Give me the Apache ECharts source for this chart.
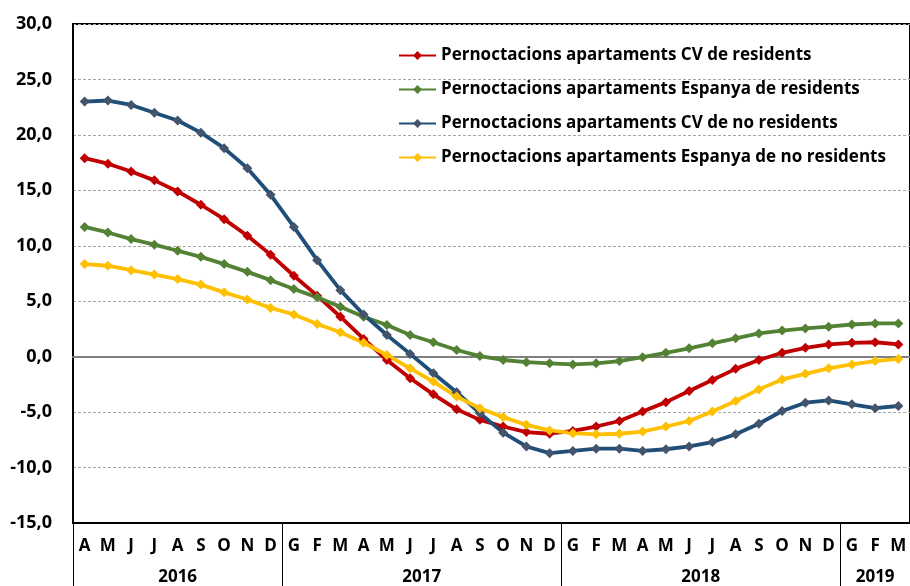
<!DOCTYPE html>
<html>
<head>
<meta charset="utf-8">
<script src="https://cdn.jsdelivr.net/npm/echarts@6/dist/echarts.min.js"></script>
<style>
  html, body { margin: 0; padding: 0; background: #fff; }
  #chart { width: 910px; height: 586px; }
</style>
</head>
<body>
<div id="chart"></div>
<script>
// months: Apr 2016 .. Mar 2019
var months = ['A','M','J','J','A','S','O','N','D',
  'G','F','M','A','M','J','J','A','S','O','N','D',
  'G','F','M','A','M','J','J','A','S','O','N','D',
  'G','F','M']
var years = ['2016', '2017', '2018', '2019']
var yearCounts = [9, 12, 12, 3]

var names = [
  'Pernoctacions apartaments CV de residents',
  'Pernoctacions apartaments Espanya de residents',
  'Pernoctacions apartaments CV de no residents',
  'Pernoctacions apartaments Espanya de no residents'
]

var cvResidents = [17.9, 17.4, 16.7, 15.9, 14.9, 13.7, 12.4, 10.9, 9.2,
  7.3, 5.5, 3.6, 1.6, -0.3, -1.95, -3.4, -4.75, -5.7, -6.3, -6.8, -6.95,
  -6.7, -6.3, -5.8, -4.95, -4.1, -3.1, -2.1, -1.1, -0.3, 0.35, 0.8, 1.1,
  1.25, 1.3, 1.1]
var espResidents = [11.7, 11.2, 10.6, 10.1, 9.55, 9.0, 8.35, 7.65, 6.9,
  6.1, 5.35, 4.5, 3.6, 2.85, 1.95, 1.3, 0.6, 0.05, -0.3, -0.5, -0.6,
  -0.7, -0.6, -0.4, -0.05, 0.35, 0.75, 1.2, 1.65, 2.1, 2.35, 2.55, 2.7,
  2.9, 3.0, 3.0]
var cvNoResidents = [23.0, 23.1, 22.7, 22.0, 21.3, 20.2, 18.8, 17.0, 14.6,
  11.7, 8.7, 6.0, 3.8, 1.95, 0.25, -1.5, -3.2, -5.1, -6.85, -8.1, -8.7,
  -8.5, -8.3, -8.3, -8.5, -8.35, -8.1, -7.7, -7.0, -6.05, -4.9, -4.15, -3.95,
  -4.3, -4.65, -4.45]
var espNoResidents = [8.35, 8.2, 7.8, 7.4, 7.0, 6.5, 5.8, 5.15, 4.4,
  3.8, 2.95, 2.2, 1.25, 0.15, -1.05, -2.25, -3.6, -4.65, -5.45, -6.15, -6.65,
  -6.9, -7.0, -6.95, -6.75, -6.3, -5.8, -4.95, -4.0, -2.95, -2.05, -1.55, -1.05,
  -0.7, -0.4, -0.2]

var yMin = -15
var yMax = 30
var yStep = 5

// year boundaries and label centres on a 0..36 scale
var yearEdges = [0]
var yearMids = []
yearCounts.forEach(function (c, i) {
  var start = yearEdges[i]
  yearEdges.push(start + c)
  yearMids.push(start + c / 2)
})

var chart = echarts.init(document.getElementById('chart'))

function makeSeries(name, data, lineColor, markColor) {
  return {
    name: name,
    type: 'line',
    data: data,
    symbol: 'diamond',
    symbolSize: 10,
    lineStyle: { color: lineColor, width: 3.8 },
    itemStyle: { color: markColor, borderWidth: 0 },
    color: lineColor,
    z: 3
  }
}

var font = 'Open Sans'

chart.setOption({
  animation: false,
  grid: {
    left: 73,
    right: -5,
    top: 24,
    bottom: 63,
    show: true,
    borderColor: '#000',
    borderWidth: 2,
    backgroundColor: 'transparent'
  },
  legend: {
    orient: 'vertical',
    left: 393,
    top: 42,
    itemWidth: 37,
    itemHeight: 11,
    itemGap: 17,
    textStyle: { fontFamily: font, fontWeight: 'bold', fontSize: 17, color: '#000' },
    data: names
  },
  xAxis: [
    {
      type: 'category',
      data: months,
      boundaryGap: true,
      axisLine: { onZero: false, lineStyle: { color: '#000', width: 2 } },
      axisTick: { show: false },
      axisLabel: {
        interval: 0,
        margin: 15,
        fontFamily: font,
        fontWeight: 'bold',
        fontSize: 17,
        color: '#000'
      },
      splitLine: { show: false }
    },
    {
      type: 'value',
      min: 0,
      max: months.length,
      position: 'bottom',
      axisLine: { show: false, onZero: false },
      axisTick: {
        show: true,
        customValues: yearEdges,
        length: 64,
        lineStyle: { color: '#000', width: 1 }
      },
      axisLabel: {
        customValues: yearMids,
        margin: 46,
        formatter: function (v) {
          var i = yearMids.indexOf(v)
          return i >= 0 ? years[i] : ''
        },
        fontFamily: font,
        fontWeight: 'bold',
        fontSize: 17,
        color: '#000'
      },
      splitLine: { show: false }
    },
    {
      // zero line
      type: 'category',
      data: months,
      axisLine: { onZero: true, lineStyle: { color: '#808080', width: 2 } },
      axisTick: { show: false },
      axisLabel: { show: false },
      splitLine: { show: false }
    }
  ],
  yAxis: {
    type: 'value',
    min: yMin,
    max: yMax,
    interval: yStep,
    axisLine: { show: true, lineStyle: { color: '#000', width: 2 } },
    axisTick: { show: false },
    axisLabel: {
      margin: 21,
      fontFamily: font,
      fontWeight: 'bold',
      fontSize: 18,
      color: '#000',
      formatter: function (v) { return v.toFixed(1).replace('.', ',') }
    },
    splitLine: { lineStyle: { color: '#A6A6A6', type: [3, 2], width: 1 } }
  },
  series: [
    makeSeries(names[0], cvResidents, '#C00000', '#C00000'),
    makeSeries(names[1], espResidents, '#548235', '#548235'),
    makeSeries(names[2], cvNoResidents, '#1F4E79', '#44546A'),
    makeSeries(names[3], espNoResidents, '#FFC000', '#FFC000')
  ]
})
</script>
</body>
</html>
